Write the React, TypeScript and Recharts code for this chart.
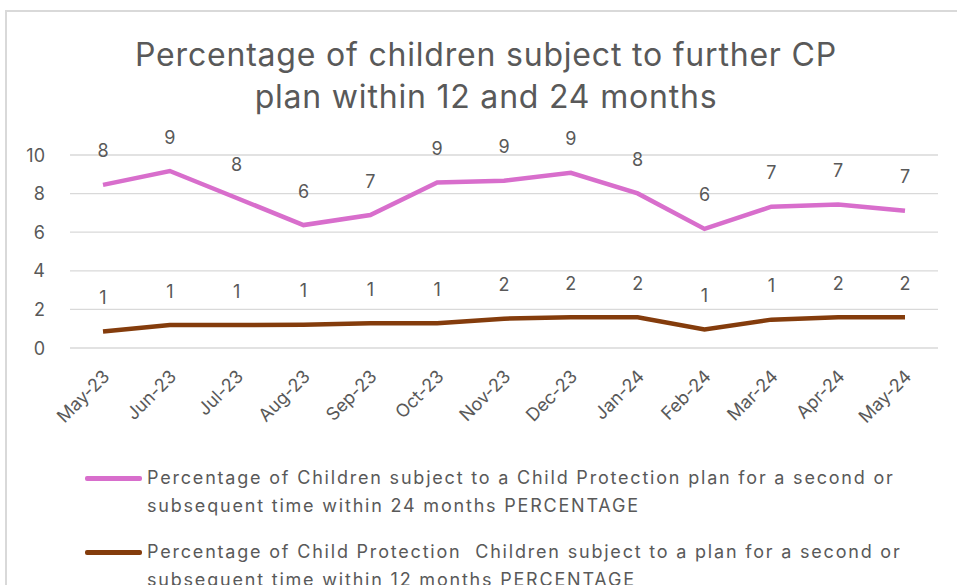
import React from 'react';
import { LineChart, Line, XAxis, YAxis, CartesianGrid, LabelList, Legend } from 'recharts';

const months = ['May-23', 'Jun-23', 'Jul-23', 'Aug-23', 'Sep-23', 'Oct-23', 'Nov-23', 'Dec-23', 'Jan-24', 'Feb-24', 'Mar-24', 'Apr-24', 'May-24'];
const within24 = [8.45, 9.17, 7.77, 6.37, 6.89, 8.58, 8.67, 9.08, 8.01, 6.17, 7.32, 7.44, 7.11];
const within12 = [0.85, 1.19, 1.19, 1.2, 1.28, 1.28, 1.52, 1.59, 1.59, 0.96, 1.47, 1.59, 1.59];
const yTicks = [0, 2, 4, 6, 8, 10];

const name24 = 'Percentage of Children subject to a Child Protection plan for a second or subsequent time within 24 months PERCENTAGE';
const name12 = 'Percentage of Child Protection  Children subject to a plan for a second or subsequent time within 12 months PERCENTAGE';
const legendLines24 = ['Percentage of Children subject to a Child Protection plan for a second or', 'subsequent time within 24 months PERCENTAGE'];
const legendLines12 = ['Percentage of Child Protection\u00a0 Children subject to a plan for a second or', 'subsequent time within 12 months PERCENTAGE'];

const titleLines = ['Percentage of children subject to further CP', 'plan within 12 and 24 months'];

const data = months.map((m, i) => ({ month: m, v24: within24[i], v12: within12[i] }));

const FONT = 'Inter, Roboto, sans-serif';
const GRAY = '#595959';
const PINK = '#D86ECC';
const BROWN = '#843C0C';

const DataLabel = (props: any) => {
  const { x, y, value } = props;
  return (
    <text x={x} y={y - 34} textAnchor="middle" dominantBaseline="central" fill={GRAY} fontSize={18} fontFamily={FONT}>
      {Math.round(value)}
    </text>
  );
};

const XTick = (props: any) => {
  const { x, y, payload } = props;
  const ax = x + 3;
  const ay = y + 17;
  return (
    <text
      x={ax}
      y={ay}
      textAnchor="end"
      dominantBaseline="central"
      transform={`rotate(-45 ${ax} ${ay})`}
      fill={GRAY}
      fontSize={18}
      fontFamily={FONT}
    >
      {payload.value}
    </text>
  );
};

const YTick = (props: any) => {
  const { x, y, payload } = props;
  return (
    <text x={x - 19} y={y} textAnchor="end" dominantBaseline="central" fill={GRAY} fontSize={18} fontFamily={FONT}>
      {payload.value}
    </text>
  );
};

const renderLegend = () => {
  const items = [
    { color: PINK, lines: legendLines24 },
    { color: BROWN, lines: legendLines12 },
  ];
  return (
    <div style={{ fontFamily: FONT, fontSize: 18, color: GRAY, letterSpacing: 1.8 }}>
      {items.map((it, i) => (
        <div key={i} style={{ display: 'flex', alignItems: 'flex-start', marginBottom: 18 }}>
          <div style={{ width: 57, height: 5, background: it.color, marginTop: 12, marginRight: 5, borderRadius: 2, flexShrink: 0 }} />
          <div style={{ lineHeight: '28px', whiteSpace: 'nowrap' }}>
            {it.lines.map((l, j) => (
              <div key={j}>{l}</div>
            ))}
          </div>
        </div>
      ))}
    </div>
  );
};

export default function App() {
  return (
    <div style={{ position: 'fixed', left: 0, top: 0, width: 957, height: 585, background: '#fff', overflow: 'hidden' }}>
      <div style={{ position: 'absolute', left: 5, top: 10, width: 1000, height: 700, border: '2px solid #D9D9D9', boxSizing: 'border-box' }} />
      <div style={{ position: 'absolute', left: 0, top: 34, width: 972, textAlign: 'center', fontFamily: FONT, fontSize: 32, color: GRAY, lineHeight: '42px', letterSpacing: 0.8 }}>
        {titleLines.map((l, i) => (
          <div key={i}>{l}</div>
        ))}
      </div>
      <div style={{ position: 'absolute', left: 0, top: 0 }}>
        <LineChart width={957} height={585} data={data} margin={{ top: 155, right: 19, bottom: 227, left: 0 }}>
          <CartesianGrid horizontal vertical={false} stroke="#D9D9D9" strokeWidth={1.3} />
          <XAxis dataKey="month" axisLine={false} tickLine={false} tick={<XTick />} interval={0} height={10} padding={{ left: 33, right: 33 }} />
          <YAxis domain={[0, 10]} ticks={yTicks} axisLine={false} tickLine={false} width={70} tick={<YTick />} tickMargin={0} />
          <Legend
            layout="horizontal"
            verticalAlign="middle"
            align="center"
            content={renderLegend}
            wrapperStyle={{ left: 85, top: 464, width: 860 }}
          />
          <Line type="linear" dataKey="v24" name={name24} stroke={PINK} strokeWidth={4.5} dot={false} isAnimationActive={false}>
            <LabelList dataKey="v24" content={<DataLabel />} />
          </Line>
          <Line type="linear" dataKey="v12" name={name12} stroke={BROWN} strokeWidth={4.5} dot={false} isAnimationActive={false}>
            <LabelList dataKey="v12" content={<DataLabel />} />
          </Line>
        </LineChart>
      </div>
    </div>
  );
}
